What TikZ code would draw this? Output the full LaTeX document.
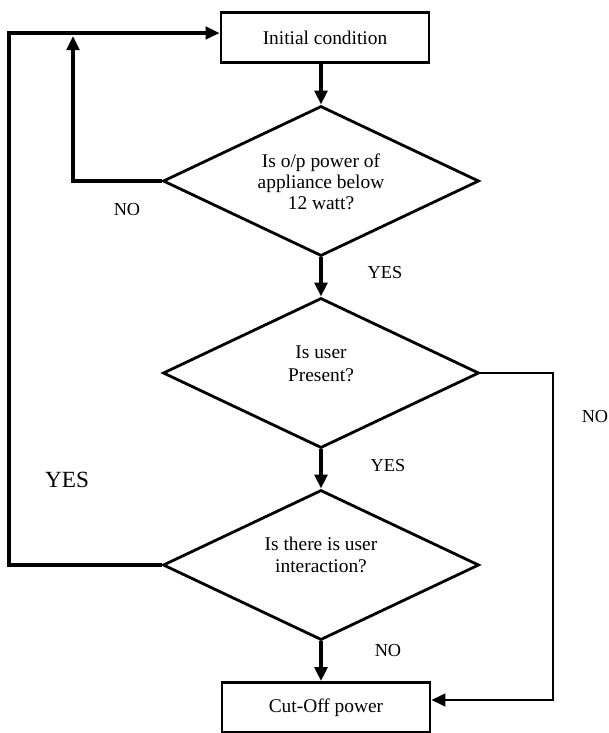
\documentclass[tikz,border=0pt]{standalone}
\usepackage{fontspec}
\setmainfont{Liberation Serif}
\usepackage{tikz}
\usetikzlibrary{shapes.geometric,arrows.meta}
\tikzset{
  ProcBox/.style={
    draw, line width=2pt, rectangle,
    minimum width=5.2cm, minimum height=1.25cm,
    inner sep=0pt, font=\fontsize{13.8}{16}\selectfont
  },
  Decision/.style={
    draw, line width=2pt, diamond, aspect=2.1,
    minimum width=7.9cm, minimum height=3.75cm, inner sep=0pt
  },
  QText/.style={align=center, font=\fontsize{13.8}{16}\selectfont},
  FlowArrow/.style={line width=2.6pt, -{Triangle[length=10pt,width=9pt]}},
  Answer/.style={font=\fontsize{13}{15}\selectfont}
}

\begin{document}
\begin{tikzpicture}[x=0.025cm, y=-0.025cm, line join=miter]
  \useasboundingbox (0,0) rectangle (609,733);

  % boxes and decisions
  \node[ProcBox] (init) at (325,37.5) {Initial condition};
  \node[Decision] (d1) at (321,181) {};
  \node[Decision] (d2) at (321,373) {};
  \node[Decision] (d3) at (321,565) {};
  \node[ProcBox] (cut) at (326,707.5) {Cut-Off power};

  % questions
  \node[QText, font=\fontsize{13.8}{14.8}\selectfont] (q1) at (321,182)
    {Is o/p power of\\appliance below\\12 watt?};
  \node[QText] (q2) at (321,364) {Is user\\Present?};
  \node[QText] (q3) at (321,555) {Is there is user\\interaction?};

  % turning points of the side lines
  \coordinate (il) at (73,36);
  \coordinate (ol) at (9,33);
  \coordinate (rc) at (553,700);

  % main flow
  \draw[FlowArrow] (d1.north |- init.south) -- (d1.north);
  \draw[FlowArrow] (d1.south) -- (d2.north);
  \draw[FlowArrow] (d2.south) -- (d3.north);
  \draw[FlowArrow] (d3.south) -- (d3.south |- cut.north);

  % loops back and the NO branch
  \draw[FlowArrow] (d1.west) -| (il);
  \draw[FlowArrow, line width=2.3pt] (d3.west) -| (ol) -- (init.west |- ol);
  \draw[FlowArrow, line width=1.9pt] (d2.east) -| (rc) -- (rc -| cut.east);

  % answers
  \node[Answer] (no1) at (127,210) {NO};
  \node[Answer] (yes1) at (385,273) {YES};
  \node[Answer] (no2) at (595,417) {NO};
  \node[Answer] (yes2) at (388,466) {YES};
  \node[Answer, font=\fontsize{16.5}{18}\selectfont] (yes3) at (67,480) {YES};
  \node[Answer] (no3) at (388,651) {NO};
\end{tikzpicture}
\end{document}
